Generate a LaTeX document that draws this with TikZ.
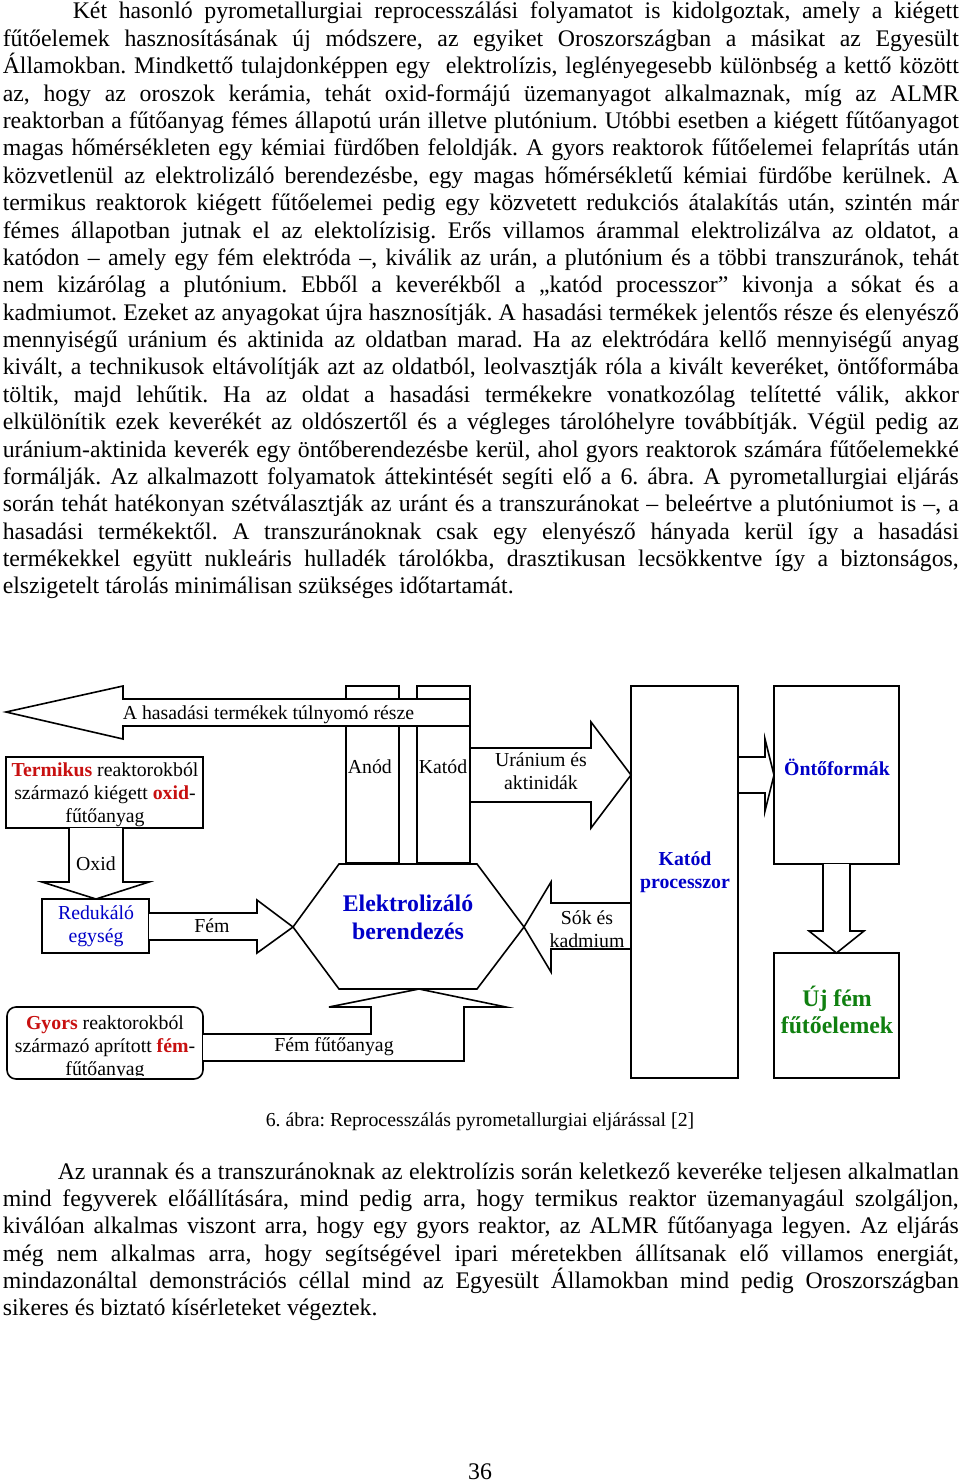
\documentclass[tikz,border=0pt]{standalone}
\usepackage{fontspec}
\setmainfont{Liberation Serif}
\frenchspacing
\definecolor{tblue}{RGB}{0,0,200}
\definecolor{tred}{RGB}{200,16,16}
\definecolor{tgreen}{RGB}{16,128,16}
\newcommand\jl[1]{\hbox to 956pt{#1}}
\newcommand\lastl[1]{\hbox to 956pt{#1\hfil}}
\newcommand\bodyf{\fontsize{23.8pt}{27.38pt}\selectfont}
\newcommand\dfont{\fontsize{19.8pt}{23pt}\selectfont}
\newcommand\bigbf{\fontsize{23.8pt}{27.5pt}\selectfont\bfseries}
\newcommand\redbf[1]{\textcolor{tred}{\textbf{#1}}}
\tikzset{
  boxs/.style={draw, fill=white, inner sep=0pt, outer sep=0pt},
  blk/.style={draw, fill=white, line join=miter},
  lbl/.style={inner sep=0pt, font=\dfont, align=center},
}
\begin{document}
\begin{tikzpicture}[x=1pt,y=-1pt,line width=1.6pt]
\useasboundingbox[fill=white] (0,0) rectangle (960,1482);

% ---------- body text ----------
\node[anchor=base west, inner sep=0pt, font=\bodyf] (para1) at (2,19) {\vtop{\hsize=956pt\baselineskip=27.38pt\frenchspacing
\jl{\hskip70pt\relax Két hasonló pyrometallurgiai reprocesszálási folyamatot is kidolgoztak, amely a kiégett}
\jl{fűtőelemek hasznosításának új módszere, az egyiket Oroszországban a másikat az Egyesült}
\jl{Államokban. Mindkettő tulajdonképpen egy\ \ elektrolízis, leglényegesebb különbség a kettő között}
\jl{az, hogy az oroszok kerámia, tehát oxid-formájú üzemanyagot alkalmaznak, míg az ALMR}
\jl{reaktorban a fűtőanyag fémes állapotú urán illetve plutónium. Utóbbi esetben a kiégett fűtőanyagot}
\jl{magas hőmérsékleten egy kémiai fürdőben feloldják. A gyors reaktorok fűtőelemei felaprítás után}
\jl{közvetlenül az elektrolizáló berendezésbe, egy magas hőmérsékletű kémiai fürdőbe kerülnek. A}
\jl{termikus reaktorok kiégett fűtőelemei pedig egy közvetett redukciós átalakítás után, szintén már}
\jl{fémes állapotban jutnak el az elektolízisig. Erős villamos árammal elektrolizálva az oldatot, a}
\jl{katódon – amely egy fém elektróda –, kiválik az urán, a plutónium és a többi transzuránok, tehát}
\jl{nem kizárólag a plutónium. Ebből a keverékből a „katód processzor” kivonja a sókat és a}
\jl{kadmiumot. Ezeket az anyagokat újra hasznosítják. A hasadási termékek jelentős része és elenyésző}
\jl{mennyiségű uránium és aktinida az oldatban marad. Ha az elektródára kellő mennyiségű anyag}
\jl{kivált, a technikusok eltávolítják azt az oldatból, leolvasztják róla a kivált keveréket, öntőformába}
\jl{töltik, majd lehűtik. Ha az oldat a hasadási termékekre vonatkozólag telítetté válik, akkor}
\jl{elkülönítik ezek keverékét az oldószertől és a végleges tárolóhelyre továbbítják. Végül pedig az}
\jl{uránium-aktinida keverék egy öntőberendezésbe kerül, ahol gyors reaktorok számára fűtőelemekké}
\jl{formálják. Az alkalmazott folyamatok áttekintését segíti elő a 6. ábra. A pyrometallurgiai eljárás}
\jl{során tehát hatékonyan szétválasztják az uránt és a transzuránokat – beleértve a plutóniumot is –, a}
\jl{hasadási termékektől. A transzuránoknak csak egy elenyésző hányada kerül így a hasadási}
\jl{termékekkel együtt nukleáris hulladék tárolókba, drasztikusan lecsökkentve így a biztonságos,}
\lastl{elszigetelt tárolás minimálisan szükséges időtartamát.}}};

\node[anchor=base west, inner sep=0pt, font=\bodyf] (para2) at (2,1179) {\vtop{\hsize=956pt\baselineskip=27.38pt\frenchspacing
\jl{\hskip55pt\relax Az urannak és a transzuránoknak az elektrolízis során keletkező keveréke teljesen alkalmatlan}
\jl{mind fegyverek előállítására, mind pedig arra, hogy termikus reaktor üzemanyagául szolgáljon,}
\jl{kiválóan alkalmas viszont arra, hogy egy gyors reaktor, az ALMR fűtőanyaga legyen. Az eljárás}
\jl{még nem alkalmas arra, hogy segítségével ipari méretekben állítsanak elő villamos energiát,}
\jl{mindazonáltal demonstrációs céllal mind az Egyesült Államokban mind pedig Oroszországban}
\lastl{sikeres és biztató kísérleteket végeztek.}}};

\node[anchor=base, inner sep=0pt, font=\dfont] (caption) at (480,1126) {6. ábra: Reprocesszálás pyrometallurgiai eljárással [2]};
\node[anchor=base, inner sep=0pt, font=\bodyf] (pagenum) at (480,1479) {36};

% ---------- diagram ----------
% electrodes
\node[boxs, minimum width=53pt, minimum height=177pt] (anod) at (372.5,774.5) {};
\node[boxs, minimum width=53pt, minimum height=177pt] (katod) at (443.5,774.5) {};
\node[anchor=base west, inner sep=0pt, font=\dfont] (anodl) at (347,773) {Anód};
\node[anchor=base west, inner sep=0pt, font=\dfont] (katodl) at (418,773) {Katód};

% big left arrow (fission products)
\draw[blk] (katod.east |- 0,699) -- (123,699) -- (123,686) -- (6,712) -- (123,739) -- (123,726) -- (katod.east |- 0,726) -- cycle;
\node[anchor=base west, inner sep=0pt, font=\dfont] (hasl) at (122,719) {A hasadási termékek túlnyomó része};

% hexagon
\draw[blk] (339,864) -- (477,864) -- (524,927) -- (477,989) -- (339,989) -- (293,927) -- cycle;
\coordinate (hexL) at (293,927);
\coordinate (hexR) at (524,927);
\coordinate (hexB) at (419,989);
\node[lbl, font=\bigbf, text=tblue, text depth=0pt] (elek) at (408,917) {Elektrolizáló\\berendezés};

% Katod processzor
\node[boxs, minimum width=107pt, minimum height=392pt] (kproc) at (684.5,882) {};
\node[lbl, font=\dfont\bfseries, text=tblue] (kprocl) at (685,872) {Katód\\processzor};

% Uranium arrow
\draw[blk] (katod.east |- 0,748) -- (591,748) -- (591,722) -- (kproc.west |- 0,775) -- (591,828) -- (591,802) -- (katod.east |- 0,802) -- cycle;
\node[lbl] (uranl) at (541,771) {Uránium és\\aktinidák};

% Sok es kadmium arrow
\draw[blk] (hexR) -- (551,882) -- (551,903) -- (kproc.west |- 0,903) -- (kproc.west |- 0,949) -- (551,949) -- (551,972) -- cycle;
\node[lbl] (sokl) at (587,929) {Sók és\\kadmium};

% Ontoformak
\node[boxs, minimum width=125pt, minimum height=178pt] (onto) at (836.5,775) {};
\node[inner sep=0pt, font=\dfont\bfseries, text=tblue] (ontol) at (837,767) {Öntőformák};
\draw[blk] (kproc.east |- 0,757) -- (765,757) -- (765,739) -- (onto.west |- 0,775) -- (765,811) -- (765,793) -- (kproc.east |- 0,793) -- cycle;

% Uj fem
\node[boxs, minimum width=125pt, minimum height=125pt] (ujfem) at (836.5,1015.5) {};
\node[lbl, font=\bigbf, text=tgreen] (ujfeml) at (837,1010) {Új fém\\fűtőelemek};
\draw[blk] (823,864) -- (823,931) -- (809,931) -- (ujfem.north) -- (864,931) -- (850,931) -- (850,864);

% Termikus box
\node[boxs, minimum width=197pt, minimum height=71pt] (termik) at (104.5,792.5) {};
\node[lbl] (termikl) at (105,795) {\redbf{Termikus} reaktorokból\\származó kiégett \redbf{oxid}-\\fűtőanyag};

% Oxid arrow
\draw[blk] (69,828) -- (69,882) -- (42,882) -- (96,899) -- (149,882) -- (123,882) -- (123,828);
\node[lbl] (oxidl) at (96,864) {Oxid};

% Redukalo
\node[boxs, minimum width=107pt, minimum height=54pt] (reduk) at (95.5,926) {};
\node[lbl, text=tblue] (redukl) at (96,926) {Redukáló\\egység};

% Fem arrow
\draw[blk] (reduk.east |- 0,913) -- (257,913) -- (257,900) -- (hexL) -- (257,953) -- (257,940) -- (reduk.east |- 0,940);
\node[lbl] (feml) at (212,926) {Fém};

% Gyors box
\node[boxs, rounded corners=9pt, minimum width=196pt, minimum height=72pt] (gyors) at (105,1043) {};
\begin{scope}
\clip (8,1008) rectangle (202,1075);
\node[lbl] (gyorsl) at (105,1048) {\redbf{Gyors} reaktorokból\\származó aprított \redbf{fém}-\\fűtőanyag};
\end{scope}

% Fem futoanyag arrow
\draw[blk] (gyors.east |- 0,1034) -- (371,1034) -- (371,1007) -- (329,1007) -- (hexB) -- (506,1007) -- (464,1007) -- (464,1061) -- (gyors.east |- 0,1061);
\node[lbl] (fffl) at (334,1047) {Fém fűtőanyag};
\end{tikzpicture}
\end{document}
